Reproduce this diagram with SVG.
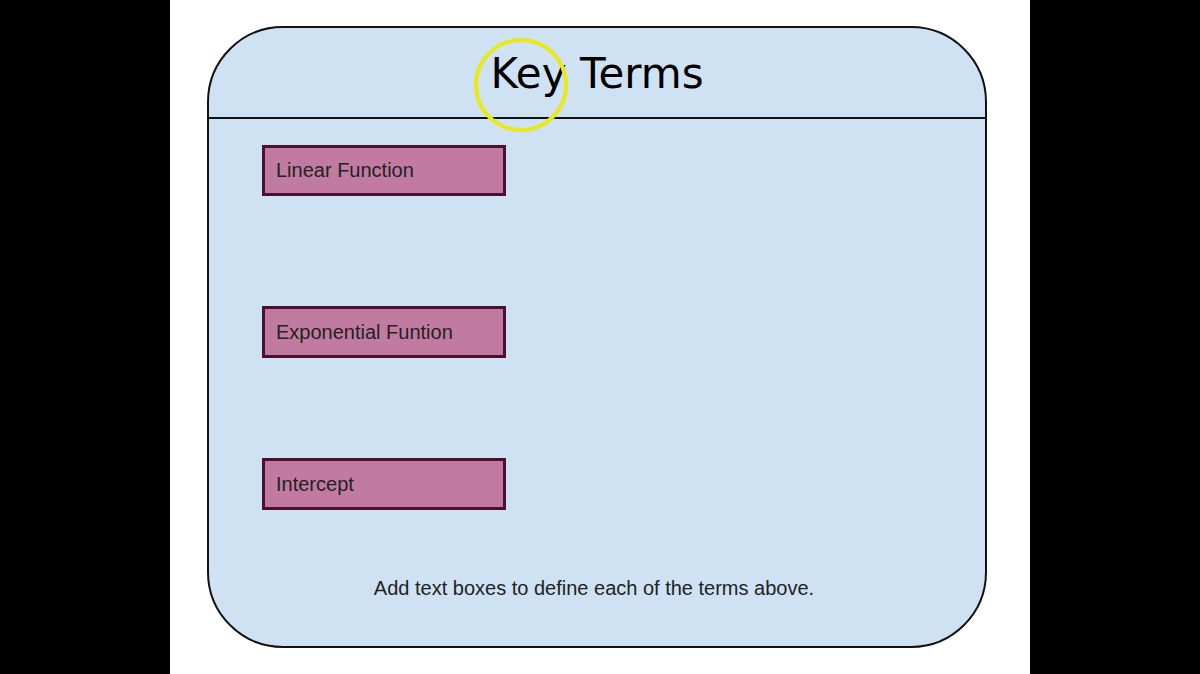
<svg xmlns="http://www.w3.org/2000/svg" width="1200" height="674" viewBox="0 0 1200 674">
<style>
.box{fill:#c27ba0;stroke:#4c1130;stroke-width:3}
.lbl{font-family:"Liberation Sans",Arial,sans-serif;font-size:20px;fill:#222}
</style>
<rect x="0" y="0" width="1200" height="674" fill="#000"/>
<rect x="170" y="0" width="860" height="674" fill="#fff"/>
<g id="panel">
<rect x="208" y="27" width="778" height="620" rx="75" ry="75" fill="#cfe2f3" stroke="#111" stroke-width="2"/>
<line x1="208" y1="118" x2="986" y2="118" stroke="#111" stroke-width="2"/>
<text x="597" y="88" text-anchor="middle" font-family="'DejaVu Sans',sans-serif" font-size="42" fill="#000">Key Terms</text>
<circle cx="521" cy="85" r="45" fill="none" stroke="#e8e81a" stroke-width="4"/>
</g>
<g id="n1"><rect class="box" x="263.5" y="146.5" width="241" height="48"/><text class="lbl" x="276" y="177">Linear Function</text></g>
<g id="n2"><rect class="box" x="263.5" y="307.5" width="241" height="49"/><text class="lbl" x="276" y="339">Exponential Funtion</text></g>
<g id="n3"><rect class="box" x="263.5" y="459.5" width="241" height="49"/><text class="lbl" x="276" y="491">Intercept</text></g>
<g id="connectors"></g>
<text class="lbl" x="594" y="595" text-anchor="middle" fill="#111">Add text boxes to define each of the terms above.</text>
</svg>
